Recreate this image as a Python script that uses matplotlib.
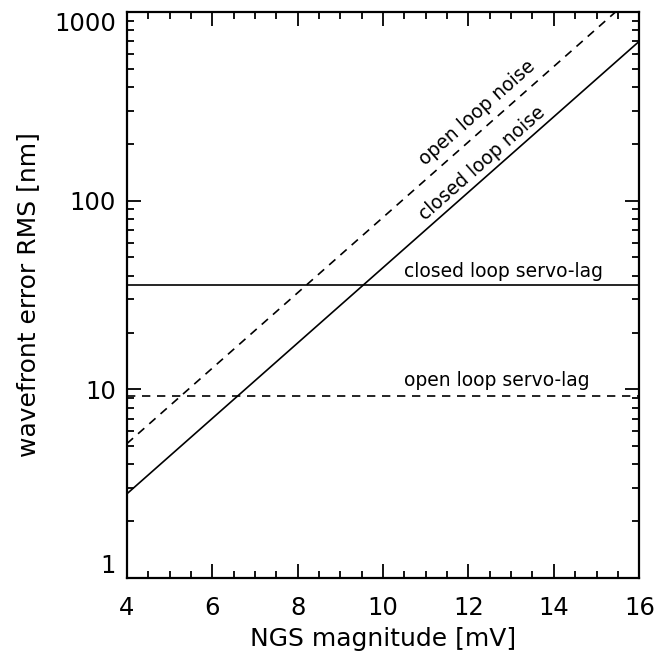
import numpy as np
import matplotlib
matplotlib.use("Agg")
import matplotlib.pyplot as plt
from matplotlib.ticker import FixedLocator, LogLocator, NullFormatter

# NGS magnitude range and error curves
mag = [4.0, 16.0]
closed_noise = [2.79, 700.0]
open_noise = [5.15, 1293.0]
closed_servo = [35.7, 35.7]
open_servo = [9.26, 9.26]

xticks = [4, 6, 8, 10, 12, 14, 16]
yticks = [1, 10, 100, 1000]
ytick_labels = ["1", "10", "100", "1000"]

plt.rcParams['font.family'] = ['DejaVu Sans']
fig = plt.figure(figsize=(6.57, 6.55), dpi=100)
ax = fig.add_axes([0.193, 0.1176, 0.78, 0.864])

ax.plot(mag, closed_noise, color='k', lw=1.2)
ax.plot(mag, open_noise, color='k', lw=1.2, dashes=(5, 4))
ax.plot(mag, closed_servo, color='k', lw=1.2)
ax.plot(mag, open_servo, color='k', lw=1.2, dashes=(5, 4))

ax.set_yscale('log')
ax.set_xlim(4, 16)
ax.set_ylim(1, 1000)

ax.xaxis.set_major_locator(FixedLocator(xticks))
ax.xaxis.set_minor_locator(FixedLocator(np.arange(4, 16.01, 0.5)))
ax.yaxis.set_major_locator(FixedLocator(yticks))
ax.yaxis.set_minor_locator(LogLocator(base=10, subs=np.arange(2, 10)))
ax.yaxis.set_minor_formatter(NullFormatter())
ax.set_yticklabels(ytick_labels)

ax.tick_params(which='both', direction='in', top=True, right=True,
               labelsize=17.5, width=1.3)
ax.tick_params(which='major', length=10)
ax.tick_params(axis='x', which='major', pad=13)
ax.tick_params(axis='y', which='major', pad=8)
ax.tick_params(which='minor', length=5)
ylabs = ax.get_yticklabels()
ylabs[0].set_va('bottom')
ylabs[-1].set_va('top')
for s in ax.spines.values():
    s.set_linewidth(1.6)

ax.set_xlabel("NGS magnitude [mV]", fontsize=18, labelpad=5)
ax.set_ylabel("wavefront error RMS [nm]", fontsize=18, labelpad=10)

ax.text(10.49, 41.9, "closed loop servo-lag", fontsize=13.5, ha='left', va='center')
ax.text(10.49, 11.2, "open loop servo-lag", fontsize=13.5, ha='left', va='center')
ax.text(12.32, 158, "closed loop noise", fontsize=13.5, ha='center', va='center',
        rotation=41.5, rotation_mode='anchor')
ax.text(12.2, 292, "open loop noise", fontsize=13.5, ha='center', va='center',
        rotation=41.5, rotation_mode='anchor')

fig.savefig("out.png", dpi=100)
